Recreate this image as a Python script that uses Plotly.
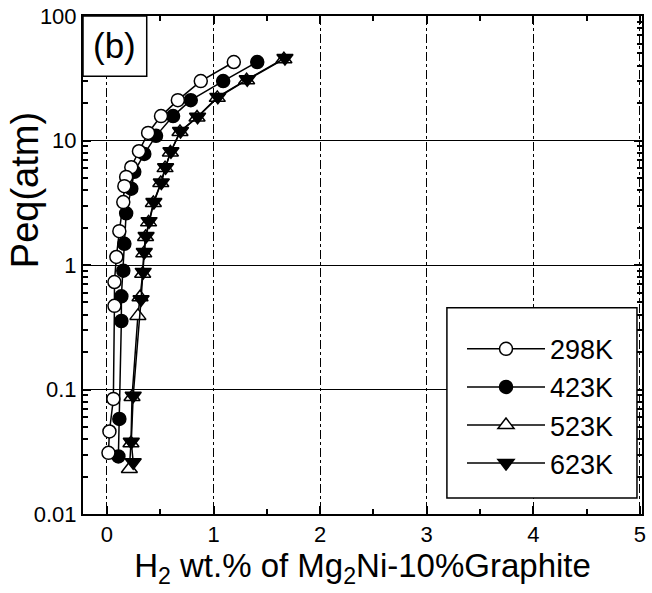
import plotly.graph_objects as go

# ---- data ----
x_298 = [1.19, 0.88, 0.665, 0.507, 0.386, 0.30, 0.228, 0.18, 0.163, 0.153, 0.116, 0.088, 0.07, 0.07, 0.06, 0.023, 0.014]
y_298 = [42.7, 30, 21.1, 15.7, 11.5, 8.2, 6.1, 5.1, 4.3, 3.2, 1.87, 1.16, 0.73, 0.47, 0.084, 0.046, 0.031]

x_423 = [1.41, 1.09, 0.786, 0.62, 0.46, 0.35, 0.256, 0.228, 0.18, 0.163, 0.153, 0.135, 0.135, 0.116, 0.107]
y_423 = [42.7, 30, 21.1, 15.7, 10.9, 7.8, 5.6, 4.1, 2.6, 1.48, 0.9, 0.56, 0.355, 0.058, 0.029]

x_523 = [1.66, 1.31, 1.035, 0.845, 0.685, 0.595, 0.545, 0.505, 0.435, 0.39, 0.362, 0.345, 0.335, 0.31, 0.29, 0.235, 0.225, 0.21]
y_523 = [45, 30.5, 22, 15.3, 11.7, 8.0, 6.0, 4.55, 3.15, 2.2, 1.68, 1.24, 0.85, 0.55, 0.39, 0.087, 0.037, 0.023]

x_623 = [1.67, 1.316, 1.04, 0.85, 0.69, 0.60, 0.55, 0.51, 0.44, 0.395, 0.367, 0.35, 0.34, 0.32, 0.246, 0.228, 0.246]
y_623 = [46, 31, 22.4, 15.5, 11.9, 8.2, 6.1, 4.6, 3.2, 2.25, 1.71, 1.27, 0.88, 0.53, 0.089, 0.038, 0.026]

names = ["298K", "423K", "523K", "623K"]
y_tickvals = [0.01, 0.1, 1, 10, 100]
y_ticktext = ["0.01", "0.1", "1", "10", "100"]
x_tickvals = [0, 1, 2, 3, 4, 5]

FONT = "Liberation Sans, Arial, sans-serif"

fig = go.Figure()

# drawing order (bottom -> top); legend order set by legendrank
series = [
    (x_523, y_523, names[2], "triangle-up", "white", 14, 3),
    (x_623, y_623, names[3], "triangle-down", "black", 14, 4),
    (x_423, y_423, names[1], "circle", "black", 13, 2),
    (x_298, y_298, names[0], "circle", "white", 13, 1),
]
for xs, ys, nm, sym, fill, sz, rank in series:
    fig.add_trace(go.Scatter(
        x=xs, y=ys, name=nm, mode="lines+markers", legendrank=rank,
        line=dict(color="black", width=1.5),
        marker=dict(symbol=sym, size=sz, color=fill, line=dict(color="black", width=1.5)),
    ))

fig.update_layout(
    width=652, height=593,
    margin=dict(l=83, r=10, t=16, b=79),
    paper_bgcolor="white", plot_bgcolor="white",
    font=dict(family=FONT, color="black", size=22),
    showlegend=True,
    legend=dict(
        x=0.678, y=0.38, xanchor="left", yanchor="top",
        borderwidth=0, bgcolor="rgba(0,0,0,0)",
        font=dict(size=27, family=FONT), traceorder="normal",
        itemwidth=78, tracegroupgap=0,
    ),
    xaxis=dict(
        range=[-0.225, 5.02], tickvals=x_tickvals, ticks="inside", ticklen=8,
        tickwidth=1.5, tickcolor="black", automargin=False,
        showline=True, linecolor="black", linewidth=2, mirror="ticks",
        showgrid=True, gridcolor="black", gridwidth=1, griddash="dashdot",
        zeroline=False,
        minor=dict(dtick=0.5, ticks="inside", ticklen=5, tickcolor="black", showgrid=False),
        tickfont=dict(size=22),
        title=dict(text="H<sub>2</sub> wt.% of Mg<sub>2</sub>Ni-10%Graphite", font=dict(size=33), standoff=4),
    ),
    yaxis=dict(
        type="log", range=[-2, 2], tickvals=y_tickvals, ticktext=y_ticktext,
        ticks="inside", ticklen=8, tickwidth=1.5, tickcolor="black", automargin=False,
        showline=True, linecolor="black", linewidth=2, mirror="ticks",
        showgrid=True, gridcolor="black", gridwidth=1.2,
        zeroline=False,
        minor=dict(dtick="D1", ticks="inside", ticklen=5, tickcolor="black", showgrid=False),
        tickfont=dict(size=22),
    ),
    shapes=[
        dict(type="rect", xref="paper", yref="paper", x0=0, x1=0.114, y0=0.879, y1=1,
             line=dict(color="black", width=1.5), fillcolor="white", layer="above"),
        dict(type="rect", xref="paper", yref="paper", x0=0.651, x1=0.991, y0=0.032, y1=0.414,
             line=dict(color="black", width=1.5), fillcolor="white", layer="above"),
    ],
    annotations=[
        dict(text="(b)", xref="paper", yref="paper", x=0.057, y=0.94,
             showarrow=False, font=dict(size=35, family=FONT), xanchor="center", yanchor="middle"),
        dict(text="Peq(atm)", xref="paper", yref="paper", x=-0.104, y=0.65, textangle=-90,
             showarrow=False, font=dict(size=38, family=FONT), xanchor="center", yanchor="middle"),
    ],
)

fig.write_html("out.html")
